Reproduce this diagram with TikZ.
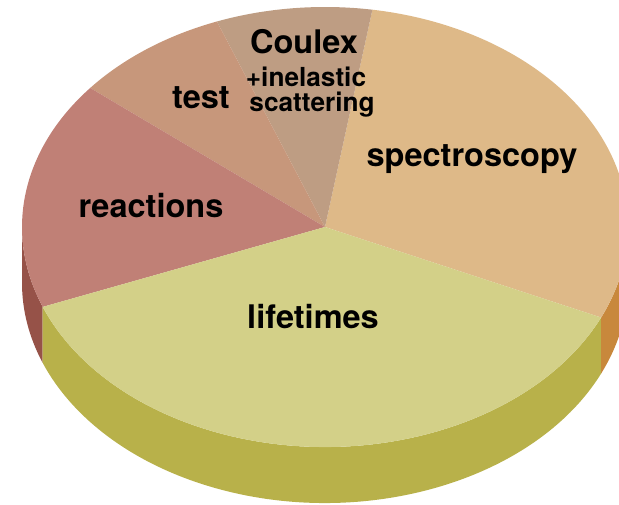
\documentclass[tikz,border=0pt]{standalone}
\usepackage{fontspec}
\setmainfont{TeX Gyre Heros}
\usetikzlibrary{calc}
\definecolor{specTop}{RGB}{222,185,136}
\definecolor{specSide}{RGB}{200,136,60}
\definecolor{lifeTop}{RGB}{211,208,136}
\definecolor{lifeSide}{RGB}{184,177,74}
\definecolor{reacTop}{RGB}{192,128,118}
\definecolor{reacSide}{RGB}{150,82,72}
\definecolor{testTop}{RGB}{199,151,123}
\definecolor{coulTop}{RGB}{190,157,131}
\tikzset{
  big/.style={font=\bfseries\fontsize{32.5}{36}\selectfont, anchor=base, inner sep=0pt},
  small/.style={font=\bfseries\fontsize{26.2}{28}\selectfont, anchor=base, inner sep=0pt},
}
\newcommand{\topsector}[3]{% start, end, colour
  \fill[#3] (C) -- ($(C)+(#1:303pt and 220pt)$) arc[start angle=#1, end angle=#2, x radius=303pt, y radius=220pt] -- cycle;}
\newcommand{\sidesector}[3]{%
  \fill[#3] ($(C)+(#1:303pt and 220pt)$) arc[start angle=#1, end angle=#2, x radius=303pt, y radius=220pt] -- ++(0,-56pt) arc[start angle=#2, end angle=#1, x radius=303pt, y radius=220pt] -- cycle;}
\begin{document}
\begin{tikzpicture}[x=1pt,y=1pt]
\useasboundingbox (0,0) rectangle (619,504);
\clip (0,0) rectangle (619,504);
\coordinate (C) at (325,277);
% sides
\sidesector{180}{201.3}{reacSide}
\sidesector{201.3}{335.7}{lifeSide}
\sidesector{335.7}{360}{specSide}
% top
\topsector{-24.3}{81}{specTop}
\topsector{81}{110.9}{coulTop}
\topsector{110.9}{140.8}{testTop}
\topsector{140.8}{201.3}{reacTop}
\topsector{201.3}{335.7}{lifeTop}
% labels
\node[big] (spec) at (472,337) {spectroscopy};
\node[big] (reac) at (151,286) {reactions};
\node[big] (life) at (313,175) {lifetimes};
\node[big] (test) at (201,395) {test};
\node[big] (coul) at (304,450) {Coulex};
\node[small] (inel) at (306,417) {+inelastic};
\node[small] (scat) at (312,392) {scattering};
\end{tikzpicture}
\end{document}
